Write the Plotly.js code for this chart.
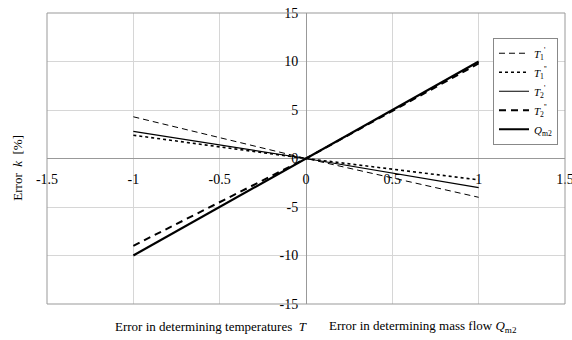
<!DOCTYPE html>
<html><head><meta charset="utf-8">
<script src="https://cdn.plot.ly/plotly-3.0.1.min.js"></script>
<style>html,body{margin:0;padding:0;background:#fff}#chart{width:572px;height:340px}</style>
</head><body><div id="chart"></div>
<script>
const xErr = [-1, 0, 1];
const T1p = [4.3, 0, -4.0];
const T1pp = [2.4, 0, -2.2];
const T2p = [2.8, 0, -3.0];
const T2pp = [-9.0, 0, 9.8];
const Qm2 = [-10, 0, 10];
const seriesNames = ["<i>T</i><sub>1</sub><sup>'</sup>", "<i>T</i><sub>1</sub><sup>''</sup>", "<i>T</i><sub>2</sub><sup>'</sup>", "<i>T</i><sub>2</sub><sup>''</sup>", "<i>Q</i><sub>m2</sub>"];
const xTicks = [-1.5, -1, -0.5, 0, 0.5, 1, 1.5];
const yTicks = [-15, -10, -5, 0, 5, 10, 15];

const FAM = 'Liberation Serif';
const traces = [
  {x: xErr, y: T1p, name: seriesNames[0], mode: 'lines', line: {color: '#000', width: 1, dash: '6px,4px'}},
  {x: xErr, y: T1pp, name: seriesNames[1], mode: 'lines', line: {color: '#000', width: 1.6, dash: 'dot'}},
  {x: xErr, y: T2p, name: seriesNames[2], mode: 'lines', line: {color: '#000', width: 1.2}},
  {x: xErr, y: T2pp, name: seriesNames[3], mode: 'lines', line: {color: '#000', width: 2, dash: '7px,5px'}},
  {x: xErr, y: Qm2, name: seriesNames[4], mode: 'lines', line: {color: '#000', width: 2.2}}
];
const layout = {
  width: 572, height: 340,
  margin: {l: 47, r: 7, t: 13, b: 36},
  paper_bgcolor: '#fff', plot_bgcolor: '#fff',
  font: {family: FAM, size: 14, color: '#000'},
  showlegend: true,
  legend: {x: 0.861, y: 0.915, xanchor: 'left', yanchor: 'top', bgcolor: '#fff', bordercolor: '#888', borderwidth: 1,
           font: {family: FAM, size: 11, color: '#000'}, tracegroupgap: 0, itemwidth: 30},
  xaxis: {range: [-1.5, 1.5], tickvals: xTicks, ticktext: xTicks.map(String), anchor: 'free', position: 0.5,
          showgrid: true, gridcolor: '#d6d6d6', gridwidth: 1, zeroline: true, zerolinecolor: '#999', zerolinewidth: 1,
          showline: false, ticks: 'outside', ticklen: 8, tickcolor: 'rgba(0,0,0,0)', ticklabeloverflow: 'allow',
          tickfont: {family: FAM, size: 14, color: '#000'}},
  yaxis: {range: [-15, 15], tickvals: yTicks, ticktext: yTicks.map(String), anchor: 'free', position: 0.5,
          showgrid: true, gridcolor: '#d6d6d6', gridwidth: 1, zeroline: true, zerolinecolor: '#999', zerolinewidth: 1,
          showline: false, ticks: 'outside', ticklen: 5, tickcolor: 'rgba(0,0,0,0)', ticklabeloverflow: 'allow',
          tickfont: {family: FAM, size: 14, color: '#000'}},
  shapes: [{type: 'rect', xref: 'paper', yref: 'paper', x0: 0, x1: 1, y0: 0, y1: 1, line: {color: '#999', width: 1}}],
  annotations: [
    {text: 'Error  <i>k</i>  [%]', xref: 'paper', yref: 'paper', x: -0.057, y: 0.47, textangle: -90, showarrow: false,
     xanchor: 'center', yanchor: 'middle', font: {family: FAM, size: 13, color: '#000'}},
    {text: 'Error in determining temperatures  <i>T</i>', xref: 'paper', yref: 'paper', x: (113 - 47) / 518, y: -0.079,
     xanchor: 'left', yanchor: 'middle', showarrow: false, font: {family: FAM, size: 13, color: '#000'}},
    {text: 'Error in determining mass flow <i>Q</i><sub>m2</sub>', xref: 'paper', yref: 'paper', x: (327 - 47) / 518, y: -0.079,
     xanchor: 'left', yanchor: 'middle', showarrow: false, font: {family: FAM, size: 13, color: '#000'}}
  ]
};
Plotly.newPlot('chart', traces, layout, {displayModeBar: false, staticPlot: true});
</script></body></html>
